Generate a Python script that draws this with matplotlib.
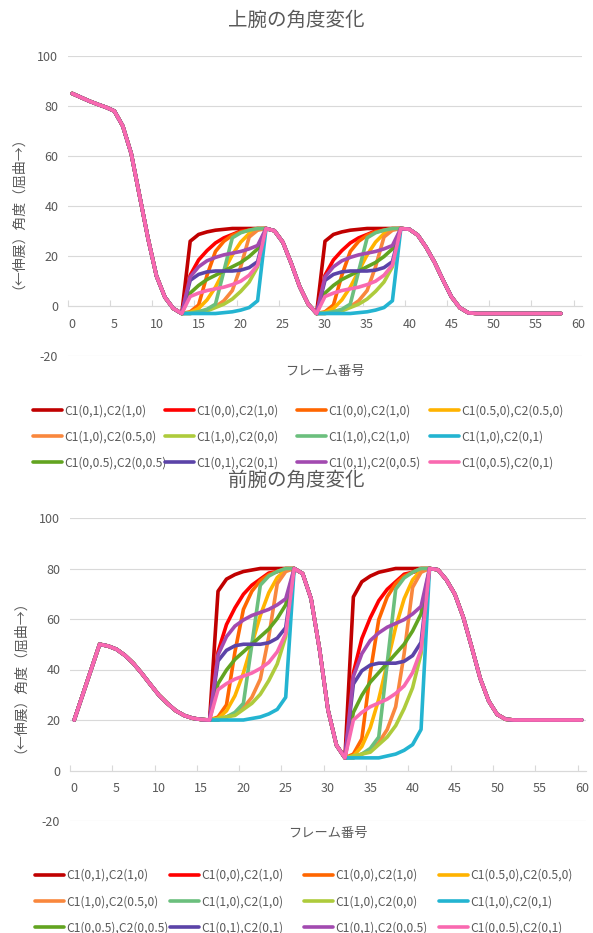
import numpy as np
import matplotlib
matplotlib.use('Agg')
import matplotlib.pyplot as plt

plt.rcParams['font.family'] = ['Noto Sans CJK JP', 'DejaVu Sans']
plt.rcParams['axes.unicode_minus'] = False
gray = '#595959'
grid_gray = '#D9D9D9'

# legend labels and colours, in the order of the upper-arm chart
series_labels = ['C1(0,1),C2(1,0)', 'C1(0,0),C2(1,0)', 'C1(0,0),C2(1,0)', 'C1(0.5,0),C2(0.5,0)',
                 'C1(1,0),C2(0.5,0)', 'C1(1,0),C2(0,0)', 'C1(1,0),C2(1,0)', 'C1(1,0),C2(0,1)',
                 'C1(0,0.5),C2(0,0.5)', 'C1(0,1),C2(0,1)', 'C1(0,1),C2(0,0.5)', 'C1(0,0.5),C2(0,1)']
series_colors = ['#C00000', '#FF0000', '#FF6600', '#FFB300',
                 '#F9873D', '#AECB3C', '#6BBF7D', '#23B4D1',
                 '#62A420', '#5B43A8', '#A24AB0', '#F969B0']

# shape of each curve over a 10 frame movement (0 = start angle, 1 = end angle)
rise = [
    [0, 0.85, 0.93, 0.96, 0.98, 0.99, 1.0, 1.0, 1.0, 1.0, 1],
    [0, 0.45, 0.63, 0.74, 0.83, 0.89, 0.93, 0.97, 0.98, 0.99, 1],
    [0, 0.02, 0.10, 0.45, 0.73, 0.85, 0.92, 0.96, 0.98, 1.0, 1],
    [0, 0.01, 0.06, 0.16, 0.31, 0.50, 0.69, 0.84, 0.94, 0.99, 1],
    [0, 0.0, 0.02, 0.04, 0.08, 0.15, 0.27, 0.55, 0.90, 0.98, 1],
    [0, 0.01, 0.02, 0.03, 0.07, 0.11, 0.17, 0.26, 0.37, 0.55, 1],
    [0, 0.0, 0.02, 0.05, 0.11, 0.50, 0.89, 0.95, 0.98, 1.0, 1],
    [0, 0.0, 0.0, 0.0, 0.0, 0.01, 0.02, 0.04, 0.07, 0.15, 1],
    [0, 0.24, 0.33, 0.40, 0.45, 0.50, 0.55, 0.60, 0.67, 0.76, 1],
    [0, 0.39, 0.46, 0.49, 0.50, 0.50, 0.50, 0.51, 0.54, 0.61, 1],
    [0, 0.43, 0.55, 0.62, 0.66, 0.69, 0.71, 0.73, 0.76, 0.80, 1],
    [0, 0.20, 0.24, 0.27, 0.29, 0.31, 0.34, 0.38, 0.45, 0.57, 1],
]
upper_order = list(range(12))
# the forearm legend swaps the 6th and 7th entries
fore_order = [0, 1, 2, 3, 4, 6, 5, 7, 8, 9, 10, 11]

# upper arm angle: frames 0-13, 23-29, 39-58
upper_head = [85, 83.5, 82, 80.7, 79.5, 78, 72, 61, 44, 27, 12, 3.5, -1, -3]
upper_mid = [31, 30.1, 25.5, 17, 7.7, 0.8, -3]
upper_tail = [31, 30.7, 28.4, 23.5, 17.5, 10.4, 3.7, -0.7, -2.7,
              -3, -3, -3, -3, -3, -3, -3, -3, -3, -3, -3]

# forearm angle: frames 0-16, 26-32, 42-60
fore_head = [20, 30, 40, 50, 49.3, 48, 45.6, 42.4, 38.4, 34.1, 29.9, 26.6, 23.7, 21.8, 20.7, 20.2, 20]
fore_mid = [80, 78, 68, 48, 24, 10, 5]
fore_tail = [80, 79.5, 75.5, 69.8, 60.6, 48.7, 36.4, 27.5, 22.2, 20.3,
             20, 20, 20, 20, 20, 20, 20, 20, 20]

y_label = '（←伸展）角度（屈曲→）'
x_label = 'フレーム番号'


def build(head, mid, tail, shape):
    # join the fixed parts with the two movements that follow the given shape
    lo1, hi1, lo2, hi2 = head[-1], mid[0], mid[-1], tail[0]
    move1 = [lo1 + p * (hi1 - lo1) for p in shape]
    move2 = [lo2 + p * (hi2 - lo2) for p in shape]
    return head[:-1] + move1 + mid[1:-1] + move2 + tail[1:]


def draw(ax, head, mid, tail, order, title, title_y, xlab_y, leg_top, leg_x):
    lines = []
    for i in order:
        y = build(head, mid, tail, rise[i])
        ln, = ax.plot(np.arange(len(y)), y, color=series_colors[i], lw=2.6,
                      label=series_labels[i], solid_joinstyle='round', solid_capstyle='round')
        lines.append(ln)

    ax.set_xlim(-0.5, 60.5)
    ax.set_ylim(-20, 100)
    ax.set_yticks(range(-20, 101, 20))
    ax.set_xticks(range(0, 61, 5))
    ax.set_xticks(np.arange(-0.5, 60, 5), minor=True)
    ax.tick_params(axis='x', which='major', length=0, pad=8.5, labelsize=9, labelcolor=gray)
    ax.tick_params(axis='x', which='minor', length=4, width=0.8, direction='in', color=grid_gray)
    ax.tick_params(axis='y', length=0, pad=7, labelsize=9, labelcolor=gray)
    ax.grid(axis='y', color=grid_gray, lw=0.8)
    ax.set_axisbelow(True)
    for s in ['top', 'right', 'left']:
        ax.spines[s].set_visible(False)
    ax.spines['bottom'].set_position(('data', 0))
    ax.spines['bottom'].set_color(grid_gray)
    ax.spines['bottom'].set_linewidth(0.8)
    ax.spines['bottom'].set_zorder(0.5)

    ax.set_ylabel(y_label, fontsize=10, color=gray)
    ax.yaxis.set_label_coords(-0.097, 0.5)
    ax.set_xlabel(x_label, fontsize=9.5, color=gray)
    ax.xaxis.set_label_coords(0.5, xlab_y)
    fig.text(0.5, title_y, title, ha='center', va='center', fontsize=14, color=gray)

    # one legend per column so the columns sit at even spacing
    for c in range(4):
        fig.legend(handles=[lines[c], lines[c + 4], lines[c + 8]], loc='upper left',
                   bbox_to_anchor=(leg_x[c] / 593, 1 - leg_top / 933), frameon=False,
                   borderpad=0, borderaxespad=0, handlelength=2.4, handletextpad=0.2,
                   labelspacing=1.08, fontsize=8.7, labelcolor=gray)


fig = plt.figure(figsize=(5.93, 9.33), dpi=100)
ax1 = fig.add_axes([68 / 593, 1 - 356 / 933, 514 / 593, 300 / 933])
ax2 = fig.add_axes([70 / 593, 1 - 821 / 933, 516 / 593, 303 / 933])

draw(ax1, upper_head, upper_mid, upper_tail, upper_order, '上腕の角度変化',
     1 - 20 / 933, -0.03, 404.5, [33, 165, 297, 430])
draw(ax2, fore_head, fore_mid, fore_tail, fore_order, '前腕の角度変化',
     1 - 480 / 933, -0.02, 869, [35, 170, 304, 439])

fig.savefig('out.png', dpi=100)
